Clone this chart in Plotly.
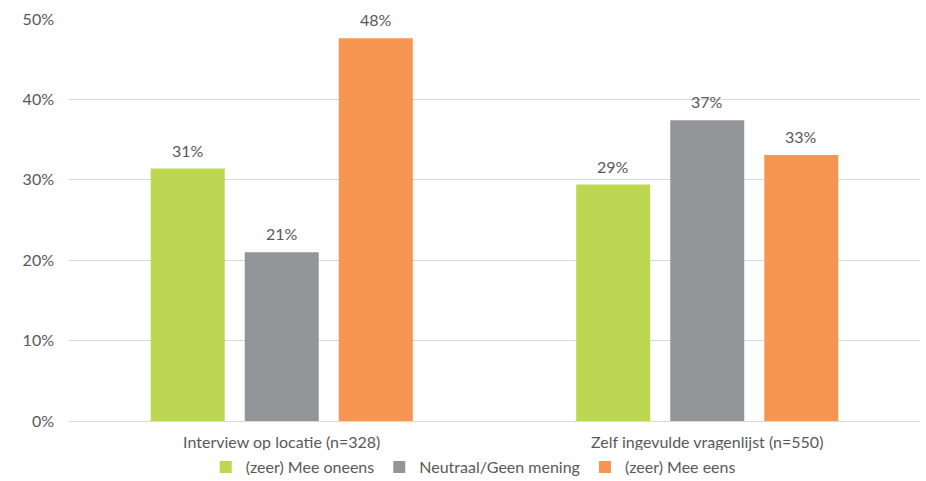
import plotly.graph_objects as go

# Survey method groups and answer shares (%)
categories = ["Interview op locatie (n=328)", "Zelf ingevulde vragenlijst (n=550)"]
series_names = ["(zeer) Mee oneens", "Neutraal/Geen mening", "(zeer) Mee eens"]
disagree = [31.4, 29.4]
neutral = [21.0, 37.4]
agree = [47.6, 33.1]
y_ticks = [0, 10, 20, 30, 40, 50]
y_tick_labels = ["0%", "10%", "20%", "30%", "40%", "50%"]

colors = ["#BDD753", "#949599", "#F79552"]
text_color = "#595959"
font_family = "Lato, 'Open Sans', sans-serif"
font_size = 16

fig = go.Figure()
for i, (name, values, color) in enumerate(zip(series_names, [disagree, neutral, agree], colors)):
    fig.add_trace(go.Bar(
        name=name,
        x=categories,
        y=values,
        marker=dict(color=color, line=dict(width=0)),
        offsetgroup=str(i),
    ))

# Value labels above each bar, placed via the bar's own offset within the group
n = len(series_names)
slot = (1 - 0.337) / n
for i, values in enumerate([disagree, neutral, agree]):
    offset = (i - (n - 1) / 2) * slot
    for j, v in enumerate(values):
        fig.add_annotation(
            x=j + offset,
            y=v,
            xref="x",
            yref="y",
            text=f"{v:.0f}%",
            showarrow=False,
            yanchor="bottom",
            yshift=7,
            font=dict(size=font_size, color=text_color, family=font_family),
        )

fig.update_layout(
    width=926,
    height=481,
    margin=dict(l=69, r=6, t=19, b=60, autoexpand=False),
    paper_bgcolor="white",
    plot_bgcolor="white",
    barmode="group",
    bargap=0.337,
    bargroupgap=0.213,
    font=dict(family=font_family, size=font_size, color=text_color),
    showlegend=True,
    legend=dict(
        orientation="h",
        x=0.475,
        xanchor="center",
        yref="container",
        y=0.029,
        yanchor="middle",
        font=dict(size=font_size, color=text_color),
        itemwidth=30,
        traceorder="normal",
    ),
)

fig.update_xaxes(
    type="category",
    showgrid=False,
    showline=True,
    linecolor="#D9D9D9",
    linewidth=1,
    ticks="",
    ticklabelstandoff=7,
    tickfont=dict(size=font_size, color=text_color),
    automargin=False,
)
fig.update_yaxes(
    range=[0, 50],
    tickvals=y_ticks,
    ticktext=y_tick_labels,
    showgrid=True,
    gridcolor="#D9D9D9",
    gridwidth=1,
    zeroline=False,
    showline=False,
    ticks="",
    ticklabelstandoff=14,
    tickfont=dict(size=font_size, color=text_color),
    automargin=False,
)

fig.write_html("out.html")
